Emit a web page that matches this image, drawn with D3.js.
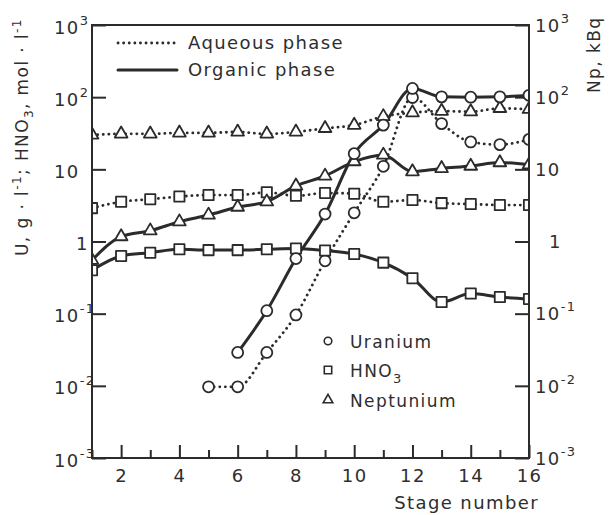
<!DOCTYPE html>
<html>
<head>
<meta charset="utf-8">
<script src="https://cdn.jsdelivr.net/npm/d3@7"></script>
<style>
  body { margin: 0; background: #fff; }
  svg text { font-family: "DejaVu Sans", sans-serif; fill: #2e2e2e; letter-spacing: 1.4px; }
</style>
</head>
<body>
<div id="chart"></div>
<script>
// stages along the cascade
var stages = [1, 2, 3, 4, 5, 6, 7, 8, 9, 10, 11, 12, 13, 14, 15, 16];

// uranium, g/l (null = not measured)
var uranOrganic = [null, null, null, null, null, 0.029, 0.11, 0.58, 2.4, 16.5, 41, 132, 101, 100, 101, 106];
var uranAqueous = [null, null, null, null, 0.0097, 0.0097, 0.029, 0.096, 0.54, 2.5, 11, 99, 43, 24, 22, 26];
// HNO3, mol/l
var hno3Organic = [0.40, 0.63, 0.70, 0.78, 0.76, 0.76, 0.78, 0.80, 0.75, 0.67, 0.51, 0.31, 0.145, 0.19, 0.17, 0.16];
var hno3Aqueous = [2.9, 3.55, 3.85, 4.2, 4.4, 4.4, 4.8, 4.3, 4.7, 4.6, 3.55, 3.75, 3.4, 3.3, 3.2, 3.2];
// neptunium, kBq
var nepOrganic = [0.55, 1.17, 1.41, 1.88, 2.33, 3.0, 3.56, 5.9, 8.1, 12.8, 15.8, 9.3, 10.3, 11.1, 12.4, 11.6];
var nepAqueous = [30, 31, 31, 32, 32, 33, 31, 33, 37, 41, 54, 61, 64, 63, 70, 68];

var yTicks = [1e-3, 1e-2, 1e-1, 1, 10, 100, 1000];
var yTickBase = ["10", "10", "10", "1", "10", "10", "10"];
var yTickExp = ["-3", "-2", "-1", "", "", "2", "3"];
var xTickLabels = ["", "2", "", "4", "", "6", "", "8", "", "10", "", "12", "", "14", "", "16"];

var svgWidth = 609, svgHeight = 515;
var plot = { left: 92, right: 529, top: 25, bottom: 458 };
var ink = "#2b2b2b";

var svg = d3.select("#chart").append("svg")
  .attr("width", svgWidth)
  .attr("height", svgHeight);

var x = d3.scaleLinear().domain([1, 16]).range([plot.left, plot.right]);
var y = d3.scaleLog().domain([1e-3, 1e3]).range([plot.bottom, plot.top]);

// clip so end markers are cut by the frame, as in the printed figure
svg.append("clipPath").attr("id", "plotclip")
  .append("rect")
  .attr("x", plot.left).attr("y", plot.top)
  .attr("width", plot.right - plot.left).attr("height", plot.bottom - plot.top);

// helper to write 10^n labels
function powerLabel(sel) {
  sel.each(function(d) {
    var i = yTicks.indexOf(d);
    var t = d3.select(this).text(null);
    t.append("tspan").text(yTickBase[i]);
    if (yTickExp[i]) {
      t.append("tspan").attr("dy", -9).attr("font-size", 13).text(yTickExp[i]);
    }
  });
}

// left axis
var leftAxis = svg.append("g")
  .attr("transform", `translate(${plot.left},0)`)
  .call(d3.axisLeft(y).tickValues(yTicks).tickSize(-14).tickPadding(0));
leftAxis.select(".domain").remove();
leftAxis.selectAll("line").attr("stroke", ink).attr("stroke-width", 2);
leftAxis.selectAll("text")
  .attr("font-size", 18).attr("text-anchor", "start")
  .attr("x", d => d === 1 ? -16 : -38).attr("dy", "0.45em")
  .call(powerLabel);

// right axis
var rightAxis = svg.append("g")
  .attr("transform", `translate(${plot.right},0)`)
  .call(d3.axisRight(y).tickValues(yTicks).tickSize(-14).tickPadding(0));
rightAxis.select(".domain").remove();
rightAxis.selectAll("line").attr("stroke", ink).attr("stroke-width", 2);
rightAxis.selectAll("text")
  .attr("font-size", 18).attr("text-anchor", "start")
  .attr("x", d => d === 1 ? 20 : 6).attr("dy", "0.35em")
  .call(powerLabel);

// bottom axis, long ticks on even stages
var bottomAxis = svg.append("g")
  .attr("transform", `translate(0,${plot.bottom})`)
  .call(d3.axisBottom(x).tickValues(stages).tickSize(-13)
    .tickFormat((d, i) => xTickLabels[i]));
bottomAxis.select(".domain").remove();
bottomAxis.selectAll("line").attr("stroke", ink).attr("stroke-width", 2)
  .attr("y2", d => d % 2 === 0 ? -13 : -8);
bottomAxis.selectAll("text")
  .attr("font-size", 18).attr("y", 10).attr("dy", "0.8em")
  .attr("fill", ink);

// axis titles
svg.append("text")
  .attr("transform", "translate(28,256) rotate(-90)")
  .attr("font-size", 17)
  .call(t => {
    t.append("tspan").text("U, g · l");
    t.append("tspan").attr("dy", -7).attr("font-size", 12).text("-1");
    t.append("tspan").attr("dy", 7).text("; HNO");
    t.append("tspan").attr("dy", 5).attr("font-size", 12).text("3");
    t.append("tspan").attr("dy", -5).text(", mol · l");
    t.append("tspan").attr("dy", -7).attr("font-size", 12).text("-1");
  });

svg.append("text")
  .attr("transform", "translate(600,93) rotate(-90)")
  .attr("font-size", 17)
  .text("Np, kBq");

svg.append("text")
  .attr("x", 539).attr("y", 509)
  .attr("text-anchor", "end")
  .attr("font-size", 18)
  .text("Stage number");

// series
var series = [
  { values: nepAqueous, shape: "triangle", dotted: true },
  { values: hno3Aqueous, shape: "square", dotted: true },
  { values: uranAqueous, shape: "circle", dotted: true },
  { values: nepOrganic, shape: "triangle", dotted: false },
  { values: hno3Organic, shape: "square", dotted: false },
  { values: uranOrganic, shape: "circle", dotted: false }
];

var line = d3.line()
  .defined(d => d[1] != null)
  .x(d => x(d[0]))
  .y(d => y(d[1]))
  .curve(d3.curveMonotoneX);

function styleLine(path, dotted) {
  path.attr("fill", "none").attr("stroke", ink).attr("stroke-linecap", "round");
  if (dotted) {
    path.attr("stroke-width", 2.8).attr("stroke-dasharray", "0.1,5.5");
  } else {
    path.attr("stroke-width", 3);
  }
}

var plotArea = svg.append("g").attr("clip-path", "url(#plotclip)");

series.forEach(function(s) {
  var pts = stages.map((st, i) => [st, s.values[i]]);
  plotArea.append("path").datum(pts).attr("d", line).call(styleLine, s.dotted);
});

var symbols = {
  circle: d3.symbol().type(d3.symbolCircle).size(95),
  square: d3.symbol().type(d3.symbolSquare).size(105),
  triangle: d3.symbol().type(d3.symbolTriangle).size(70)
};

series.forEach(function(s) {
  var pts = stages.map((st, i) => [st, s.values[i]]).filter(d => d[1] != null);
  plotArea.append("g").selectAll("path")
    .data(pts)
    .enter()
    .append("path")
    .attr("transform", d => `translate(${x(d[0])},${y(d[1])})`)
    .attr("d", symbols[s.shape])
    .attr("fill", "#fff")
    .attr("stroke", ink)
    .attr("stroke-width", 1.8)
    .attr("stroke-linejoin", "round");
});

// frame drawn over the clipped marks
svg.append("rect")
  .attr("x", plot.left).attr("y", plot.top)
  .attr("width", plot.right - plot.left).attr("height", plot.bottom - plot.top)
  .attr("fill", "none").attr("stroke", ink).attr("stroke-width", 2);

// phase legend
var phaseLegend = [
  { label: "Aqueous phase", dotted: true, y: 43 },
  { label: "Organic phase", dotted: false, y: 70 }
];
phaseLegend.forEach(function(p) {
  svg.append("path")
    .attr("d", `M118,${p.y}H177`)
    .call(styleLine, p.dotted);
  svg.append("text")
    .attr("x", 188).attr("y", p.y + 6)
    .attr("font-size", 18)
    .text(p.label);
});

// marker legend
var markerLegend = [
  { shape: "circle", label: "Uranium", y: 341 },
  { shape: "square", label: "HNO", sub: "3", y: 370 },
  { shape: "triangle", label: "Neptunium", y: 400 }
];
var smallSymbols = {
  circle: d3.symbol().type(d3.symbolCircle).size(45),
  square: d3.symbol().type(d3.symbolSquare).size(55),
  triangle: d3.symbol().type(d3.symbolTriangle).size(40)
};
markerLegend.forEach(function(m) {
  svg.append("path")
    .attr("transform", `translate(328,${m.y})`)
    .attr("d", smallSymbols[m.shape])
    .attr("fill", "#fff").attr("stroke", ink).attr("stroke-width", 1.6);
  var t = svg.append("text")
    .attr("x", 350).attr("y", m.y + 7)
    .attr("font-size", 17);
  t.append("tspan").text(m.label);
  if (m.sub) t.append("tspan").attr("dy", 6).attr("font-size", 13).text(m.sub);
});
</script>
</body>
</html>
